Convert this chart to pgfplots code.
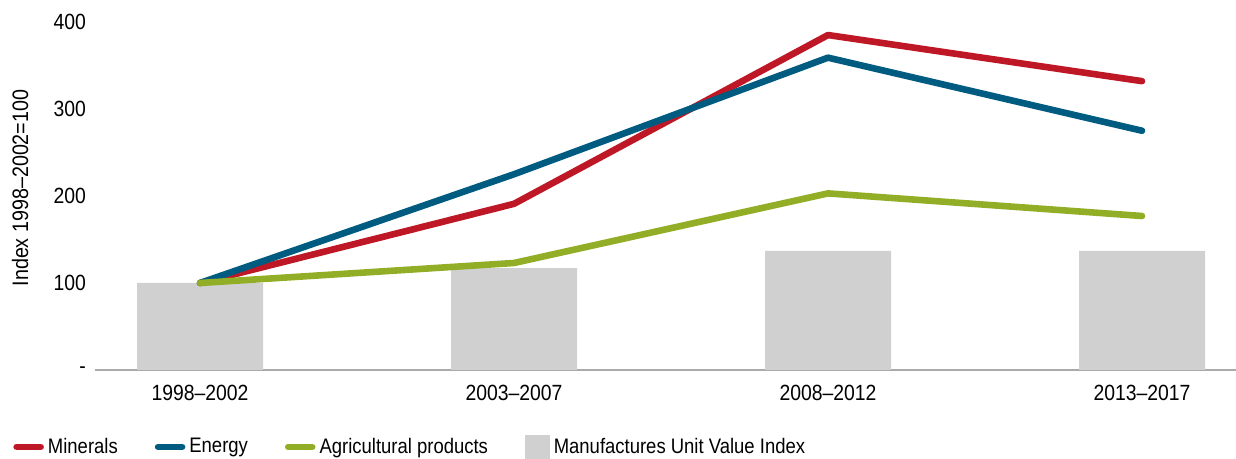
\documentclass[border=0pt]{standalone}
\usepackage{fontspec}
\setmainfont{Liberation Sans}[FakeStretch=0.88]
\usepackage{pgfplots}
\pgfplotsset{compat=1.18}
\definecolor{minred}{HTML}{BE1826}
\definecolor{enblue}{HTML}{005B80}
\definecolor{agrgreen}{HTML}{92AE26}
\definecolor{barcol}{HTML}{D0D0D0}
\definecolor{axcol}{HTML}{AAAAAA}
\begin{document}
\begin{tikzpicture}
\begin{axis}[
  name=ax,
  scale only axis,
  width=570.5pt, height=174pt,
  xmin=-0.3344, xmax=3.2994,
  ymin=0, ymax=400,
  enlargelimits=false,
  clip=false,
  axis line style={draw=none},
  axis x line*=bottom,
  axis y line*=left,
  xtick={0,1,2,3},
  xticklabels={1998--2002,2003--2007,2008--2012,2013--2017},
  ytick={0,100,200,300,400},
  yticklabels={-,100,200,300,400},
  major tick length=0pt,
  tick label style={font=\fontsize{11}{13}\selectfont, text=black},
  xticklabel style={yshift=-4pt},
  yticklabel style={xshift=-1pt},
  ylabel={Index 1998--2002=100},
  ylabel style={font=\fontsize{11.2}{13}\selectfont, at={(axis description cs:-0.0657,0.523)}, anchor=center, rotate=0},
  legend style={draw=none, fill=none, inner sep=0pt, at={(axis description cs:-0.0719,-0.221)}, anchor=west, font=\fontsize{10.5}{13}\selectfont, legend columns=4, /tikz/every even column/.append style={column sep=16.5pt}},
  legend cell align=left,
]
\draw[axcol, line width=0.8pt] (rel axis cs:0,0) -- (rel axis cs:1,0);
\addplot[ybar, bar width=63pt, bar shift=0pt, fill=barcol, draw=none, forget plot] coordinates {(0,100) (1,117) (2,137) (3,137)};
\addplot[minred, line width=3.3pt, line cap=round, line join=round, mark=none,
  legend image code/.code={\draw[minred, line width=3.3pt, line cap=round] (0pt,0pt) -- (12pt,0pt);}]
  coordinates {(0,100) (1,191) (2,385) (3,332)};
\addlegendentry{Minerals}
\addplot[enblue, line width=3.3pt, line cap=round, line join=round, mark=none,
  legend image code/.code={\draw[enblue, line width=3.3pt, line cap=round] (0pt,0pt) -- (12pt,0pt);}]
  coordinates {(0,100) (1,225) (2,359) (3,275)};
\addlegendentry{Energy}
\addplot[agrgreen, line width=3.3pt, line cap=round, line join=round, mark=none,
  legend image code/.code={\draw[agrgreen, line width=3.3pt, line cap=round] (0pt,0pt) -- (12pt,0pt);}]
  coordinates {(0,100) (1,123) (2,203) (3,177)};
\addlegendentry{Agricultural products}
\addlegendimage{legend image code/.code={\fill[barcol] (0pt,-6pt) rectangle (12pt,6pt);}}
\addlegendentry{Manufactures Unit Value Index}
\coordinate (bl) at (rel axis cs:0,0);
\end{axis}
\pgfresetboundingbox
\path[use as bounding box] ([shift={(-47.5pt,-44.5pt)}]bl) rectangle ([shift={(570.5pt,185pt)}]bl);
\end{tikzpicture}
\end{document}
